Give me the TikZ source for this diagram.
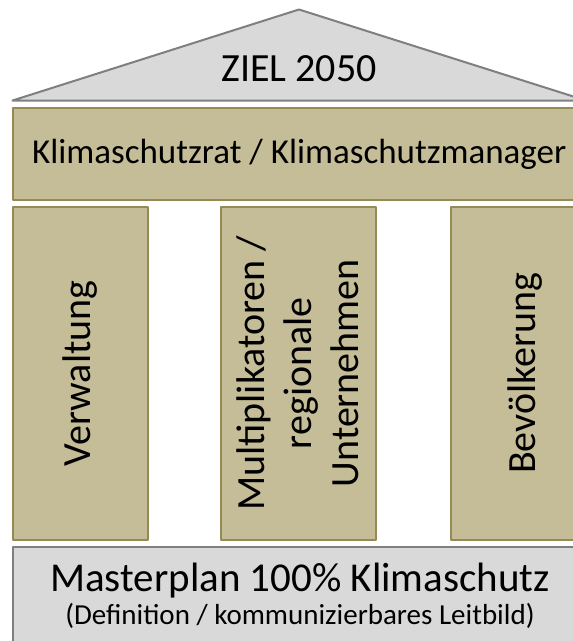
\documentclass[tikz,border=0pt]{standalone}
\usepackage{fontspec}
\setmainfont{Carlito}
\usetikzlibrary{positioning}
\definecolor{tanfill}{HTML}{C4BD97}
\definecolor{tanline}{HTML}{948A54}
\definecolor{greyfill}{HTML}{D9D9D9}
\definecolor{greyline}{HTML}{7F7F7F}

\begin{document}
\begin{tikzpicture}[x = 1pt, y = -1pt]
% style of boxes
\tikzset{tanbox/.style={fill=tanfill,draw=tanline,line width=2pt,line join=round,inner sep=0pt}}
\tikzset{greybox/.style={fill=greyfill,draw=greyline,line width=2pt,line join=round,inner sep=0pt}}
% page
\useasboundingbox (0,0) rectangle (573,641);
\clip (0,0) rectangle (573,641);
% coordinates
%roof
\coordinate (R1) at (12.5, 100.5);
\coordinate (R2) at (299, 9.5);
\coordinate (R3) at (586, 100.5);

%roof
\draw[greybox] (R1) -- (R2) -- (R3) -- cycle;
\node (ziel) at (299, 69) {\fontsize{40}{48}\selectfont ZIEL 2050};

%beam
\node[tanbox, minimum width=573.5, minimum height=91.5] (rat) at (299.25, 154)
  {\fontsize{35}{42}\selectfont Klimaschutzrat / Klimaschutzmanager};

%pillars
\node[tanbox, rotate=90, minimum width=333.5, minimum height=135] (verwaltung) at (80, 373.25)
  {\fontsize{40}{48}\selectfont Verwaltung};
\node[tanbox, rotate=90, minimum width=333.5, minimum height=155, align=center,
      font=\fontsize{40}{47}\selectfont] (multi) at (298, 373.25)
  {Multiplikatoren /\\regionale\\Unternehmen};
\node[tanbox, rotate=90, minimum width=333.5, minimum height=150] (bevoelkerung) at (525.5, 373.25)
  {\fontsize{40}{48}\selectfont Bevölkerung};

%foundation
\node[greybox, minimum width=573.5, minimum height=120] (base) at (299.25, 607) {};
\node[anchor=base, inner sep=0pt] (master) at (300, 591)
  {\fontsize{41}{49}\selectfont Masterplan 100\% Klimaschutz};
\node[anchor=base, inner sep=0pt] (leitbild) at (300, 624)
  {\fontsize{29}{35}\selectfont (Definition / kommunizierbares Leitbild)};
\end{tikzpicture}
\end{document}
